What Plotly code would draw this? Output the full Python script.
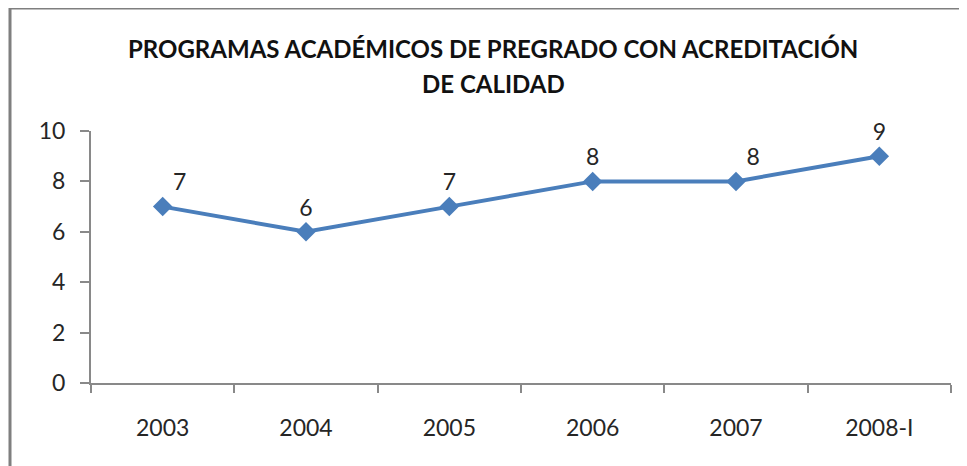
import plotly.graph_objects as go

years = ["2003", "2004", "2005", "2006", "2007", "2008-I"]
programas = [7, 6, 7, 8, 8, 9]
y_ticks = [0, 2, 4, 6, 8, 10]
title_lines = ["PROGRAMAS ACADÉMICOS DE PREGRADO CON ACREDITACIÓN", "DE CALIDAD"]
label_positions = ["top right", "top center", "top center", "top center", "top right", "top center"]

FONT = "Lato"
BLUE = "#4A7EBB"
AXIS = "#898989"

# page body has an 8px margin; compensate so the plot lands where the reference has it
OFF = 8
L, T, PW, PH = 91 - OFF, 131 - OFF, 860, 252
W, H = 967 - OFF, 466 - OFF

fig = go.Figure()
fig.add_trace(go.Scatter(
    x=years, y=programas,
    mode="lines+markers+text",
    line=dict(color=BLUE, width=4),
    marker=dict(symbol="diamond", size=15, color=BLUE),
    text=[str(v) for v in programas],
    textposition=label_positions,
    textfont=dict(family=FONT, size=23, color="#262626"),
    cliponaxis=False,
    showlegend=False,
))

fig.update_layout(
    width=W, height=H,
    margin=dict(l=L, r=W - L - PW, t=T, b=H - T - PH),
    paper_bgcolor="white", plot_bgcolor="white",
    font=dict(family=FONT, size=23, color="#262626"),
    xaxis=dict(
        type="category", range=[-0.5, 5.5],
        tickson="boundaries", ticks="outside", ticklen=8, tickwidth=2, tickcolor=AXIS,
        showline=True, linecolor=AXIS, linewidth=2,
        showgrid=False, zeroline=False, ticklabelstandoff=23,
        tickfont=dict(family=FONT, size=23),
    ),
    yaxis=dict(
        range=[0, 10], tickvals=y_ticks, ticks="outside", ticklen=9, tickwidth=2,
        tickcolor=AXIS, showline=True, linecolor=AXIS, linewidth=2,
        showgrid=False, zeroline=False, ticklabelstandoff=10,
        tickfont=dict(family=FONT, size=23),
    ),
    shapes=[dict(
        type="rect", xref="paper", yref="paper",
        x0=(10 - 91) / PW, x1=1.2, y0=-0.6, y1=(383 - 8) / PH,
        line=dict(color="#7f7f7f", width=3), fillcolor="rgba(0,0,0,0)", layer="below",
    )],
)

for line, ypx in zip(title_lines, [48, 83]):
    fig.add_annotation(
        text=line, xref="paper", yref="paper",
        x=(493 - 91) / PW, y=(383 - ypx) / PH,
        xanchor="center", yanchor="middle", showarrow=False,
        font=dict(family=FONT, size=24, color="#111111", weight="bold"),
    )

fig.write_html("out.html")
